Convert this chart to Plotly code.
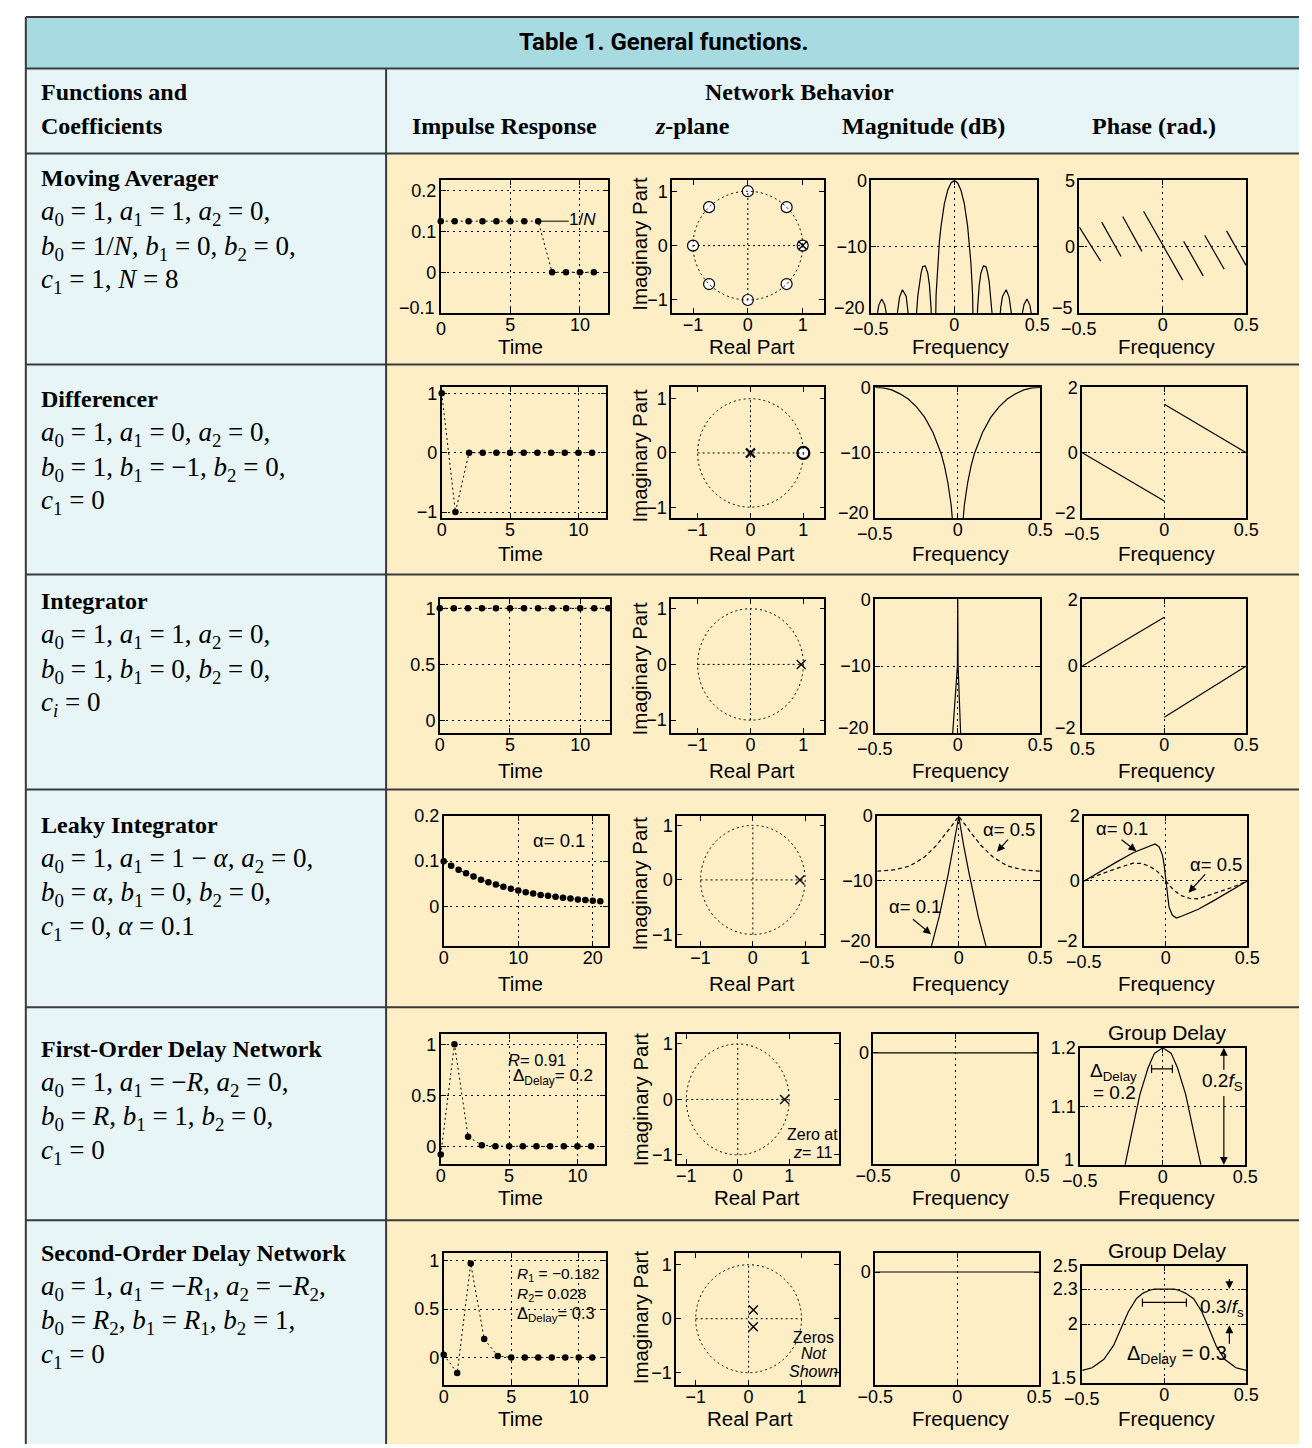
import plotly.graph_objects as go

W, H = 1312, 1448
SANS = "Liberation Sans, Arial, Helvetica, sans-serif"
SERIF = "Liberation Serif, Times New Roman, serif"
TITLE_FONT = "Liberation Sans Narrow, Roboto, Liberation Sans, sans-serif"
TITLE_BG = "#a8dbe1"
LIGHT = "#e7f5f6"
YELLOW = "#fdeec6"
BORDER = "#3a3a3a"
TICK_SIZE = 18

# ---------------- text content ----------------
table_title = "Table 1. General functions."
header_left = ["Functions and", "Coefficients"]
header_group = "Network Behavior"
col_headers = ["Impulse Response", "<i>z</i>-plane", "Magnitude (dB)", "Phase (rad.)"]
row_titles = ["Moving Averager", "Differencer", "Integrator", "Leaky Integrator",
              "First-Order Delay Network", "Second-Order Delay Network"]
row_equations = [
    ["<i>a</i><sub>0</sub> = 1, <i>a</i><sub>1</sub> = 1, <i>a</i><sub>2</sub> = 0,",
     "<i>b</i><sub>0</sub> = 1/<i>N</i>, <i>b</i><sub>1</sub> = 0, <i>b</i><sub>2</sub> = 0,",
     "<i>c</i><sub>1</sub> = 1, <i>N</i> = 8"],
    ["<i>a</i><sub>0</sub> = 1, <i>a</i><sub>1</sub> = 0, <i>a</i><sub>2</sub> = 0,",
     "<i>b</i><sub>0</sub> = 1, <i>b</i><sub>1</sub> = \u22121, <i>b</i><sub>2</sub> = 0,",
     "<i>c</i><sub>1</sub> = 0"],
    ["<i>a</i><sub>0</sub> = 1, <i>a</i><sub>1</sub> = 1, <i>a</i><sub>2</sub> = 0,",
     "<i>b</i><sub>0</sub> = 1, <i>b</i><sub>1</sub> = 0, <i>b</i><sub>2</sub> = 0,",
     "<i>c<sub>i</sub></i> = 0"],
    ["<i>a</i><sub>0</sub> = 1, <i>a</i><sub>1</sub> = 1 \u2212 <i>\u03b1</i>, <i>a</i><sub>2</sub> = 0,",
     "<i>b</i><sub>0</sub> = <i>\u03b1</i>, <i>b</i><sub>1</sub> = 0, <i>b</i><sub>2</sub> = 0,",
     "<i>c</i><sub>1</sub> = 0, <i>\u03b1</i> = 0.1"],
    ["<i>a</i><sub>0</sub> = 1, <i>a</i><sub>1</sub> = \u2212<i>R</i>, <i>a</i><sub>2</sub> = 0,",
     "<i>b</i><sub>0</sub> = <i>R</i>, <i>b</i><sub>1</sub> = 1, <i>b</i><sub>2</sub> = 0,",
     "<i>c</i><sub>1</sub> = 0"],
    ["<i>a</i><sub>0</sub> = 1, <i>a</i><sub>1</sub> = \u2212<i>R</i><sub>1</sub>, <i>a</i><sub>2</sub> = \u2212<i>R</i><sub>2</sub>,",
     "<i>b</i><sub>0</sub> = <i>R</i><sub>2</sub>, <i>b</i><sub>1</sub> = <i>R</i><sub>1</sub>, <i>b</i><sub>2</sub> = 1,",
     "<i>c</i><sub>1</sub> = 0"],
]

# ---------------- data ----------------
# Row 1: moving averager
ma_n = [0, 1, 2, 3, 4, 5, 6, 7, 8, 9, 10, 11]
ma_h = [0.125, 0.125, 0.125, 0.125, 0.125, 0.125, 0.125, 0.125, 0, 0, 0, 0]
ma_zero_re = [0.707, 0, -0.707, -1, -0.707, 0, 0.707, 1]
ma_zero_im = [0.707, 1, 0.707, 0, -0.707, -1, -0.707, 0]
ma_pole_re = [1]
ma_pole_im = [0]
ma_mag_f = [-0.5, -0.465, -0.455, -0.4375, -0.42, -0.41, -0.375, -0.345, -0.33, -0.3125,
            -0.29, -0.28, -0.27, -0.25, -0.23, -0.22, -0.21, -0.2, -0.19, -0.175, -0.16,
            -0.15, -0.14, -0.125, -0.11, -0.10, -0.09, -0.08, -0.06, -0.04, -0.02, 0,
            0.02, 0.04, 0.06, 0.08, 0.09, 0.10, 0.11, 0.125, 0.14, 0.15, 0.16, 0.175,
            0.19, 0.2, 0.21, 0.22, 0.23, 0.25, 0.27, 0.28, 0.29, 0.3125, 0.33, 0.345,
            0.375, 0.41, 0.42, 0.4375, 0.455, 0.465, 0.5]
ma_mag_db = [-40, -20.3, -18.8, -17.9, -18.7, -20.0, -40, -20.3, -17.6, -16.5,
             -17.5, -19.1, -21.9, -40, -20.8, -17.4, -15.3, -13.9, -13.0, -12.9, -14.0,
             -15.8, -19.3, -40, -17.3, -12.5, -9.2, -6.9, -3.5, -1.5, -0.4, 0,
             -0.4, -1.5, -3.5, -6.9, -9.2, -12.5, -17.3, -40, -19.3, -15.8, -14.0, -12.9,
             -13.0, -13.9, -15.3, -17.4, -20.8, -40, -21.9, -19.1, -17.5, -16.5, -17.6, -20.3,
             -40, -20.0, -18.7, -17.9, -18.8, -20.3, -40]
ma_ph_f = [-0.5, -0.372, None, -0.366, -0.25, None, -0.24, -0.125, None, -0.115, 0.119,
           None, 0.125, 0.242, None, 0.251, 0.368, None, 0.382, 0.499]
ma_ph = [1.48, -1.09, None, 1.85, -0.74, None, 2.27, -0.35, None, 2.67, -2.52,
         None, 0.40, -2.2, None, 0.86, -1.70, None, 1.19, -1.41]

# Row 2: differencer
df_n = [0, 1, 2, 3, 4, 5, 6, 7, 8, 9, 10, 11]
df_h = [1, -1, 0, 0, 0, 0, 0, 0, 0, 0, 0, 0]
df_zero_re = [1]
df_zero_im = [0]
df_pole_re = [0]
df_pole_im = [0]
df_mag_f = [-0.5, -0.45, -0.4, -0.35, -0.3, -0.25, -0.2, -0.15, -0.1, -0.08, -0.06, -0.04,
            -0.02, 0, 0.02, 0.04, 0.06, 0.08, 0.1, 0.15, 0.2, 0.25, 0.3, 0.35, 0.4, 0.45, 0.5]
df_mag_db = [0, -0.1, -0.4, -1.0, -1.8, -3.0, -4.6, -6.9, -10.2, -12.1, -14.6, -18.0,
             -24.0, -60, -24.0, -18.0, -14.6, -12.1, -10.2, -6.9, -4.6, -3.0, -1.8, -1.0, -0.4, -0.1, 0]
df_ph_f = [-0.5, 0, None, 0, 0.5]
df_ph = [0, -1.48, None, 1.48, 0]

# Row 3: integrator
in_n = [0, 1, 2, 3, 4, 5, 6, 7, 8, 9, 10, 11, 12]
in_h = [1, 1, 1, 1, 1, 1, 1, 1, 1, 1, 1, 1, 1]
in_pole_re = [0.96]
in_pole_im = [0]
in_mag_f = [-0.032, -0.002, 0, 0.002, 0.018]
in_mag_db = [-20.5, -10, 0, -10, -20.5]
in_ph_f = [-0.5, 0, None, 0, 0.5]
in_ph = [0, 1.46, None, -1.53, 0]

# Row 4: leaky integrator
lk_n = [0, 1, 2, 3, 4, 5, 6, 7, 8, 9, 10, 11, 12, 13, 14, 15, 16, 17, 18, 19, 20, 21]
lk_h = [0.1, 0.09, 0.081, 0.073, 0.066, 0.059, 0.053, 0.048, 0.043, 0.039, 0.035,
        0.031, 0.028, 0.025, 0.023, 0.021, 0.019, 0.017, 0.015, 0.014, 0.012, 0.011]
lk_pole_re = [0.9]
lk_pole_im = [0]
lk_mag1_f = [-0.17, -0.12, -0.065, -0.03, -0.01, 0, 0.01, 0.03, 0.065, 0.12, 0.17]
lk_mag1_db = [-20.3, -15.5, -9.0, -4.5, -1.5, 0, -1.5, -4.5, -9.0, -15.5, -20.3]
lk_mag5_f = [-0.5, -0.4, -0.3, -0.21, -0.14, -0.085, -0.04, 0, 0.04, 0.085, 0.14, 0.21, 0.3, 0.4, 0.5]
lk_mag5_db = [-8.5, -8.3, -7.7, -6.3, -4.6, -2.9, -1.4, 0, -1.4, -2.9, -4.6, -6.3, -7.7, -8.3, -8.5]
lk_ph1_f = [-0.5, -0.4, -0.3, -0.2, -0.1, -0.065, -0.04, -0.02, -0.01, 0, 0.01, 0.02, 0.04,
            0.065, 0.1, 0.2, 0.3, 0.4, 0.5]
lk_ph1 = [0, 0.3, 0.59, 0.87, 1.08, 1.14, 1.05, 0.8, 0.5, 0, -0.5, -0.8, -1.05, -1.14,
          -1.08, -0.87, -0.59, -0.3, 0]
lk_ph5_f = [-0.5, -0.4, -0.3, -0.2, -0.15, -0.1, -0.05, 0, 0.05, 0.1, 0.15, 0.2, 0.3, 0.4, 0.5]
lk_ph5 = [0, 0.21, 0.39, 0.55, 0.54, 0.46, 0.29, 0, -0.29, -0.46, -0.54, -0.55, -0.39, -0.21, 0]

# Row 5: first-order delay network
fd_n = [0, 1, 2, 3, 4, 5, 6, 7, 8, 9, 10, 11]
fd_h = [-0.08, 1.0, 0.095, 0.012, 0.002, 0, 0, 0, 0, 0, 0, 0]
fd_pole_re = [0.91]
fd_pole_im = [0]
fd_mag_f = [-0.5, 0.5]
fd_mag_db = [0, 0]
fd_gd_f = [-0.25, -0.228, -0.188, -0.139, -0.089, -0.05, 0, 0.05, 0.089, 0.139, 0.188, 0.228, 0.25]
fd_gd = [0.975, 1.0, 1.055, 1.12, 1.166, 1.191, 1.2, 1.191, 1.166, 1.12, 1.055, 1.0, 0.975]

# Row 6: second-order delay network
sd_n = [0, 1, 2, 3, 4, 5, 6, 7, 8, 9, 10, 11]
sd_h = [0.028, -0.16, 0.97, 0.19, 0.016, 0, 0, 0, 0, 0, 0, 0]
sd_pole_re = [0.09, 0.09]
sd_pole_im = [0.16, -0.15]
sd_mag_f = [-0.5, 0.5]
sd_mag_db = [0, 0]
sd_gd_f = [-0.5, -0.44, -0.368, -0.308, -0.268, -0.219, -0.169, -0.129, -0.089, -0.06, 0,
           0.06, 0.089, 0.129, 0.179, 0.229, 0.272, 0.318, 0.368, 0.437, 0.5]
sd_gd = [1.604, 1.627, 1.70, 1.82, 1.95, 2.106, 2.22, 2.266, 2.29, 2.3, 2.3,
         2.3, 2.29, 2.266, 2.218, 2.106, 1.965, 1.81, 1.70, 1.627, 1.604]

# ---------------- tick labels ----------------
freq_ticks = [-0.5, 0, 0.5]
freq_labels = ["\u22120.5", "0", "0.5"]
freq_labels_int = ["0.5", "0", "0.5"]
z_ticks = [-1, 0, 1]
z_labels = ["\u22121", "0", "1"]
imp_x_ticks = [0, 5, 10]
imp_x_labels = ["0", "5", "10"]
lk_x_ticks = [0, 10, 20]
lk_x_labels = ["0", "10", "20"]
mag_ticks = [-20, -10, 0]
mag_labels = ["\u221220", "\u221210", "0"]

# ---------------- layout geometry (pixels) ----------------
boxes = [
    [(433, 604, 172, 306), (670, 825, 172, 306), (874, 1044, 172, 306), (1087, 1258, 172, 306)],
    [(434, 602, 381, 513), (669, 826, 381, 513), (878, 1047, 381, 513), (1090, 1258, 381, 513)],
    [(432, 606, 595, 730), (669, 826, 595, 730), (878, 1047, 595, 730), (1090, 1258, 595, 730)],
    [(436, 604, 814, 945), (675, 826, 814, 945), (880, 1047, 814, 945), (1092, 1259, 814, 945)],
    [(433, 601, 1034, 1165), (675, 841, 1034, 1165), (876, 1044, 1034, 1165), (1088, 1257, 1048, 1166)],
    [(436, 602, 1255, 1388), (674, 841, 1255, 1388), (878, 1046, 1255, 1388), (1090, 1258, 1268, 1386)],
]
row_lines = [358, 570, 787, 1007, 1222]
title_y = [170, 393, 597, 823, 1049, 1255]
eq_offsets = [35, 70, 104]
axis_title_y = [340, 549, 768, 983, 1199, 1422]
imag_title_y = [236, 450, 665, 882, 1100, 1320]
real_title_x = [752, 752, 752, 752, 757, 750]


def px(x):
    return x / W


def py(y):
    return 1 - y / H


fig = go.Figure()
shapes = []
annotations = []


def names(i):
    return ("x" if i == 1 else f"x{i}"), ("y" if i == 1 else f"y{i}")


def corner_label(x, y, s, anchor):
    annotations.append(dict(x=px(x), y=py(y), xref="paper", yref="paper", text=s,
                            showarrow=False, xanchor=anchor, yanchor="middle",
                            font=dict(family=SANS, size=TICK_SIZE, color="black")))


def set_axes(i, box, xr, yr, xt, yt, xgrid=True, ygrid=True, corner=False):
    x0, x1, y0, y1 = box
    common = dict(showline=True, linecolor="black", linewidth=1.6, mirror="ticks",
                  ticks="inside", ticklen=5, tickwidth=1, tickcolor="black",
                  zeroline=False, gridcolor="black", gridwidth=1, griddash="2px,4px",
                  tickfont=dict(family=SANS, size=TICK_SIZE, color="black"), fixedrange=True)
    xn, yn = names(i)
    xtext = list(xt[1])
    ytext = list(yt[1])
    if corner:
        # the two labels that meet at the lower-left corner are drawn slightly apart
        corner_label(x0, y1 + 16.5, xtext[0], "center")
        corner_label(x0 - 4, y1 - 5, ytext[0], "right")
        xtext[0] = ""
        ytext[0] = ""
    xa = dict(common, domain=[px(x0), px(x1)], range=xr, anchor=yn, ticklabelstandoff=-5,
              tickmode="array", tickvals=xt[0], ticktext=xtext, showgrid=xgrid)
    ya = dict(common, domain=[py(y1), py(y0)], range=yr, anchor=xn, ticklabelstandoff=-1,
              tickmode="array", tickvals=yt[0], ticktext=ytext, showgrid=ygrid)
    fig.layout["xaxis" if i == 1 else f"xaxis{i}"] = xa
    fig.layout["yaxis" if i == 1 else f"yaxis{i}"] = ya


def line_trace(i, x, y, dash="solid", width=1.2):
    xn, yn = names(i)
    fig.add_trace(go.Scatter(x=x, y=y, mode="lines", xaxis=xn, yaxis=yn,
                             line=dict(color="black", width=width, dash=dash),
                             showlegend=False, hoverinfo="skip", connectgaps=False))


def stem_trace(i, x, y):
    xn, yn = names(i)
    fig.add_trace(go.Scatter(x=x, y=y, mode="lines+markers", xaxis=xn, yaxis=yn,
                             line=dict(color="black", width=1, dash="2px,3px"),
                             marker=dict(size=6.5, color="black"), cliponaxis=False,
                             showlegend=False, hoverinfo="skip"))


def zplane(i, zr=None, zi=None, pr=None, pi=None, bold=False):
    xn, yn = names(i)
    dash = dict(color="black", width=1, dash="2px,3px")
    shapes.append(dict(type="circle", xref=xn, yref=yn, x0=-1, y0=-1, x1=1, y1=1, line=dash))
    shapes.append(dict(type="line", xref=xn, yref=yn, x0=-1, y0=0, x1=1, y1=0, line=dash))
    shapes.append(dict(type="line", xref=xn, yref=yn, x0=0, y0=-1, x1=0, y1=1, line=dash))
    lw = 2.2 if bold else 1.2
    if zr is not None:
        fig.add_trace(go.Scatter(x=zr, y=zi, mode="markers", xaxis=xn, yaxis=yn,
                                 marker=dict(symbol="circle", size=12 if bold else 11, color="white",
                                             line=dict(color="black", width=lw)),
                                 cliponaxis=False, showlegend=False, hoverinfo="skip"))
    if pr is not None:
        fig.add_trace(go.Scatter(x=pr, y=pi, mode="markers", xaxis=xn, yaxis=yn,
                                 marker=dict(symbol="x-thin", size=9,
                                             line=dict(color="black", width=2.2 if bold else 1.4)),
                                 cliponaxis=False, showlegend=False, hoverinfo="skip"))


def text(i, x, y, s, anchor="center", size=16):
    xn, yn = names(i)
    annotations.append(dict(x=x, y=y, xref=xn, yref=yn, text=s, showarrow=False,
                            xanchor=anchor, yanchor="middle",
                            font=dict(family=SANS, size=size, color="black")))


def arrow(i, tx, ty, hx, hy):
    xn, yn = names(i)
    annotations.append(dict(x=hx, y=hy, ax=tx, ay=ty, xref=xn, yref=yn, axref=xn, ayref=yn,
                            text="", showarrow=True, arrowhead=2, arrowsize=1.3, arrowwidth=1.2,
                            arrowcolor="black", standoff=0))


def seg(i, x0, y0, x1, y1, w=1.2):
    xn, yn = names(i)
    shapes.append(dict(type="line", xref=xn, yref=yn, x0=x0, y0=y0, x1=x1, y1=y1,
                       line=dict(color="black", width=w)))


def idx(r, c):
    return r * 4 + c + 1


# ---------------- Row 1 ----------------
set_axes(idx(0, 0), boxes[0][0], [0, 12], [-0.1, 0.225], (imp_x_ticks, imp_x_labels),
         ([-0.1, 0, 0.1, 0.2], ["\u22120.1", "0", "0.1", "0.2"]), corner=True)
stem_trace(idx(0, 0), ma_n, ma_h)
seg(idx(0, 0), 7.15, 0.125, 9.2, 0.125, 1)
text(idx(0, 0), 10.2, 0.128, "1/<i>N</i>", size=17)

set_axes(idx(0, 1), boxes[0][1], [-1.38, 1.38], [-1.24, 1.2], (z_ticks, z_labels), (z_ticks, z_labels), False, False)
zplane(idx(0, 1), ma_zero_re, ma_zero_im, ma_pole_re, ma_pole_im)

set_axes(idx(0, 2), boxes[0][2], [-0.5, 0.5], [-20, 0], (freq_ticks, freq_labels), (mag_ticks, mag_labels), corner=True)
line_trace(idx(0, 2), ma_mag_f, ma_mag_db)

set_axes(idx(0, 3), boxes[0][3], [-0.5, 0.5], [-5, 5], (freq_ticks, freq_labels),
         ([-5, 0, 5], ["\u22125", "0", "5"]), corner=True)
line_trace(idx(0, 3), ma_ph_f, ma_ph)

# ---------------- Row 2 ----------------
set_axes(idx(1, 0), boxes[1][0], [0, 12], [-1.1, 1.1], (imp_x_ticks, imp_x_labels), ([-1, 0, 1], ["\u22121", "0", "1"]))
stem_trace(idx(1, 0), df_n, df_h)
set_axes(idx(1, 1), boxes[1][1], [-1.5, 1.4], [-1.2, 1.21], (z_ticks, z_labels), (z_ticks, z_labels), False, False)
zplane(idx(1, 1), df_zero_re, df_zero_im, df_pole_re, df_pole_im, bold=True)
set_axes(idx(1, 2), boxes[1][2], [-0.5, 0.5], [-20, 0], (freq_ticks, freq_labels), (mag_ticks, mag_labels), corner=True)
line_trace(idx(1, 2), df_mag_f, df_mag_db)
set_axes(idx(1, 3), boxes[1][3], [-0.5, 0.5], [-2, 2], (freq_ticks, freq_labels),
         ([-2, 0, 2], ["\u22122", "0", "2"]), corner=True)
line_trace(idx(1, 3), df_ph_f, df_ph)

# ---------------- Row 3 ----------------
set_axes(idx(2, 0), boxes[2][0], [0, 12.1], [-0.11, 1.08], (imp_x_ticks, imp_x_labels), ([0, 0.5, 1], ["0", "0.5", "1"]))
stem_trace(idx(2, 0), in_n, in_h)
set_axes(idx(2, 1), boxes[2][1], [-1.5, 1.4], [-1.23, 1.17], (z_ticks, z_labels), (z_ticks, z_labels), False, False)
zplane(idx(2, 1), None, None, in_pole_re, in_pole_im)
set_axes(idx(2, 2), boxes[2][2], [-0.5, 0.5], [-20, 0], (freq_ticks, freq_labels), (mag_ticks, mag_labels), corner=True)
line_trace(idx(2, 2), in_mag_f, in_mag_db)
set_axes(idx(2, 3), boxes[2][3], [-0.5, 0.5], [-2, 2], (freq_ticks, freq_labels_int),
         ([-2, 0, 2], ["\u22122", "0", "2"]), corner=True)
line_trace(idx(2, 3), in_ph_f, in_ph)

# ---------------- Row 4 ----------------
set_axes(idx(3, 0), boxes[3][0], [0, 22], [-0.088, 0.2], (lk_x_ticks, lk_x_labels), ([0, 0.1, 0.2], ["0", "0.1", "0.2"]))
stem_trace(idx(3, 0), lk_n, lk_h)
text(idx(3, 0), 15.4, 0.145, "\u03b1= 0.1", size=18.5)
set_axes(idx(3, 1), boxes[3][1], [-1.45, 1.37], [-1.21, 1.17], (z_ticks, z_labels), (z_ticks, z_labels), False, False)
zplane(idx(3, 1), None, None, lk_pole_re, lk_pole_im)
set_axes(idx(3, 2), boxes[3][2], [-0.5, 0.5], [-20, 0], (freq_ticks, freq_labels), (mag_ticks, mag_labels), corner=True)
line_trace(idx(3, 2), lk_mag5_f, lk_mag5_db, dash="4px,3px")
line_trace(idx(3, 2), lk_mag1_f, lk_mag1_db)
text(idx(3, 2), 0.31, -2.0, "\u03b1= 0.5", size=18.5)
arrow(idx(3, 2), 0.31, -3.4, 0.235, -5.5)
text(idx(3, 2), -0.27, -14.0, "\u03b1= 0.1", size=18.5)
arrow(idx(3, 2), -0.29, -15.7, -0.17, -18.2)
set_axes(idx(3, 3), boxes[3][3], [-0.5, 0.5], [-2, 2], (freq_ticks, freq_labels),
         ([-2, 0, 2], ["\u22122", "0", "2"]), corner=True)
line_trace(idx(3, 3), lk_ph5_f, lk_ph5, dash="4px,3px")
line_trace(idx(3, 3), lk_ph1_f, lk_ph1)
text(idx(3, 3), -0.27, 1.61, "\u03b1= 0.1", size=18.5)
arrow(idx(3, 3), -0.28, 1.31, -0.18, 0.92)
text(idx(3, 3), 0.31, 0.5, "\u03b1= 0.5", size=18.5)
arrow(idx(3, 3), 0.25, 0.25, 0.14, -0.36)

# ---------------- Row 5 ----------------
set_axes(idx(4, 0), boxes[4][0], [0, 12], [-0.17, 1.1], (imp_x_ticks, imp_x_labels), ([0, 0.5, 1], ["0", "0.5", "1"]))
stem_trace(idx(4, 0), fd_n, fd_h)
text(idx(4, 0), 9.3, 0.848, "<i>R</i>= 0.91", anchor="right", size=16.5)
text(idx(4, 0), 11.3, 0.683, "\u0394<sub>Delay</sub>= 0.2", anchor="right", size=17)
set_axes(idx(4, 1), boxes[4][1], [-1.18, 1.97], [-1.16, 1.18], (z_ticks, z_labels), (z_ticks, z_labels), False, False)
zplane(idx(4, 1), None, None, fd_pole_re, fd_pole_im)
text(idx(4, 1), 1.46, -0.64, "Zero at")
text(idx(4, 1), 1.46, -0.95, "<i>z</i>= 11")
set_axes(idx(4, 2), boxes[4][2], [-0.5, 0.5], [-20, 3.4], (freq_ticks, freq_labels), ([0], ["0"]), True, False)
line_trace(idx(4, 2), fd_mag_f, fd_mag_db)
set_axes(idx(4, 3), boxes[4][3], [-0.5, 0.5], [1, 1.2], (freq_ticks, freq_labels),
         ([1, 1.1, 1.2], ["1", "1.1", "1.2"]), corner=True)
line_trace(idx(4, 3), fd_gd_f, fd_gd)
text(idx(4, 3), -0.455, 1.158, "\u0394<sub>Delay</sub>", anchor="left", size=19)
text(idx(4, 3), -0.293, 1.124, "= 0.2", size=19)
seg(idx(4, 3), -0.068, 1.164, 0.058, 1.164)
seg(idx(4, 3), -0.068, 1.157, -0.068, 1.171)
seg(idx(4, 3), 0.058, 1.157, 0.058, 1.171)
text(idx(4, 3), 0.362, 1.141, "0.2<i>f</i><sub>S</sub>", size=19)
arrow(idx(4, 3), 0.37, 1.16, 0.37, 1.2)
arrow(idx(4, 3), 0.37, 1.12, 0.37, 1.0)

# ---------------- Row 6 ----------------
set_axes(idx(5, 0), boxes[5][0], [0, 12], [-0.28, 1.08], (imp_x_ticks, imp_x_labels), ([0, 0.5, 1], ["0", "0.5", "1"]))
stem_trace(idx(5, 0), sd_n, sd_h)
text(idx(5, 0), 5.25, 0.858, "<i>R</i><sub>1</sub> = \u22120.182", anchor="left", size=15.5)
text(idx(5, 0), 5.25, 0.653, "<i>R</i><sub>2</sub>= 0.028", anchor="left", size=15.5)
text(idx(5, 0), 5.25, 0.449, "\u0394<sub>Delay</sub>= 0.3", anchor="left", size=16.5)
set_axes(idx(5, 1), boxes[5][1], [-1.37, 1.71], [-1.22, 1.22], (z_ticks, z_labels), (z_ticks, z_labels), False, False)
zplane(idx(5, 1), None, None, sd_pole_re, sd_pole_im)
text(idx(5, 1), 1.23, -0.34, "Zeros")
text(idx(5, 1), 1.23, -0.65, "<i>Not</i>")
text(idx(5, 1), 1.23, -0.98, "<i>Shown</i>")
set_axes(idx(5, 2), boxes[5][2], [-0.5, 0.5], [-20, 3.4], (freq_ticks, freq_labels), ([0], ["0"]), True, False)
line_trace(idx(5, 2), sd_mag_f, sd_mag_db)
set_axes(idx(5, 3), boxes[5][3], [-0.5, 0.5], [1.5, 2.5], (freq_ticks, freq_labels),
         ([1.5, 2, 2.3, 2.5], ["1.5", "2", "2.3", "2.5"]), corner=True)
line_trace(idx(5, 3), sd_gd_f, sd_gd)
seg(idx(5, 3), -0.133, 2.186, 0.135, 2.186)
seg(idx(5, 3), -0.133, 2.15, -0.133, 2.22)
seg(idx(5, 3), 0.135, 2.15, 0.135, 2.22)
text(idx(5, 3), 0.35, 2.136, "0.3/<i>f</i><sub>s</sub>", size=19)
arrow(idx(5, 3), 0.397, 2.40, 0.397, 2.30)
arrow(idx(5, 3), 0.397, 1.82, 0.397, 1.99)
text(idx(5, 3), 0.077, 1.737, "\u0394<sub>Delay</sub> = 0.3", size=20)

# ---------------- table background and borders ----------------
bg = [
    (8, 1312, 7, 59, TITLE_BG),
    (8, 1312, 59, 145, LIGHT),
    (8, 377, 145, H, LIGHT),
    (377, 1312, 145, H, YELLOW),
]
bg_shapes = []
for x0, x1, y0, y1, col in bg:
    bg_shapes.append(dict(type="rect", xref="paper", yref="paper", x0=px(x0), x1=px(x1),
                          y0=py(y1), y1=py(y0), fillcolor=col, line=dict(width=0), layer="below"))
border = dict(color=BORDER, width=2)
for yv in [7, 59, 145] + row_lines:
    bg_shapes.append(dict(type="line", xref="paper", yref="paper", x0=px(8), x1=px(1312),
                          y0=py(yv), y1=py(yv), line=border, layer="below"))
bg_shapes.append(dict(type="line", xref="paper", yref="paper", x0=px(8), x1=px(8),
                      y0=py(7), y1=py(H), line=border, layer="below"))
bg_shapes.append(dict(type="line", xref="paper", yref="paper", x0=px(377), x1=px(377),
                      y0=py(59), y1=py(H), line=border, layer="below"))


def ptext(x, y, s, size, family, anchor="center", angle=0, bold=False):
    annotations.append(dict(x=px(x), y=py(y), xref="paper", yref="paper", text=s,
                            showarrow=False, xanchor=anchor, yanchor="middle", textangle=angle,
                            font=dict(family=family, size=size, color="black",
                                      weight="bold" if bold else "normal")))


ptext(661, 32, table_title, 24, TITLE_FONT, bold=True)
ptext(22, 83, header_left[0], 24, SERIF, anchor="left", bold=True)
ptext(22, 117, header_left[1], 24, SERIF, anchor="left", bold=True)
ptext(800, 83, header_group, 24, SERIF, bold=True)
for xc, s in zip([498, 691, 927, 1163], col_headers):
    ptext(xc, 117, s, 24, SERIF, bold=True)

for r in range(6):
    ptext(22, title_y[r], row_titles[r], 24, SERIF, anchor="left", bold=True)
    for k in range(3):
        ptext(22, title_y[r] + eq_offsets[k], row_equations[r][k], 27, SERIF, anchor="left")
    ya = axis_title_y[r]
    ptext(515, ya, "Time", 20.5, SANS)
    ptext(real_title_x[r], ya, "Real Part", 20.5, SANS)
    ptext(966, ya, "Frequency", 20.5, SANS)
    ptext(1177, ya, "Frequency", 20.5, SANS)
    ptext(637, imag_title_y[r], "Imaginary Part", 20.5, SANS, angle=-90)

ptext(1177, 1032, "Group Delay", 21, SANS)
ptext(1177, 1253, "Group Delay", 21, SANS)

fig.update_layout(width=W, height=H, autosize=False, margin=dict(l=0, r=0, t=0, b=0),
                  paper_bgcolor="white", plot_bgcolor="rgba(0,0,0,0)", showlegend=False,
                  shapes=bg_shapes + shapes, annotations=annotations)

fig.write_html(
    "out.html",
    config={"displayModeBar": False, "responsive": False},
    post_script=("document.documentElement.style.margin='0px';"
                 "document.body.style.margin='0px';"
                 "document.documentElement.style.overflow='hidden';"
                 "document.body.style.overflow='hidden';"),
)
